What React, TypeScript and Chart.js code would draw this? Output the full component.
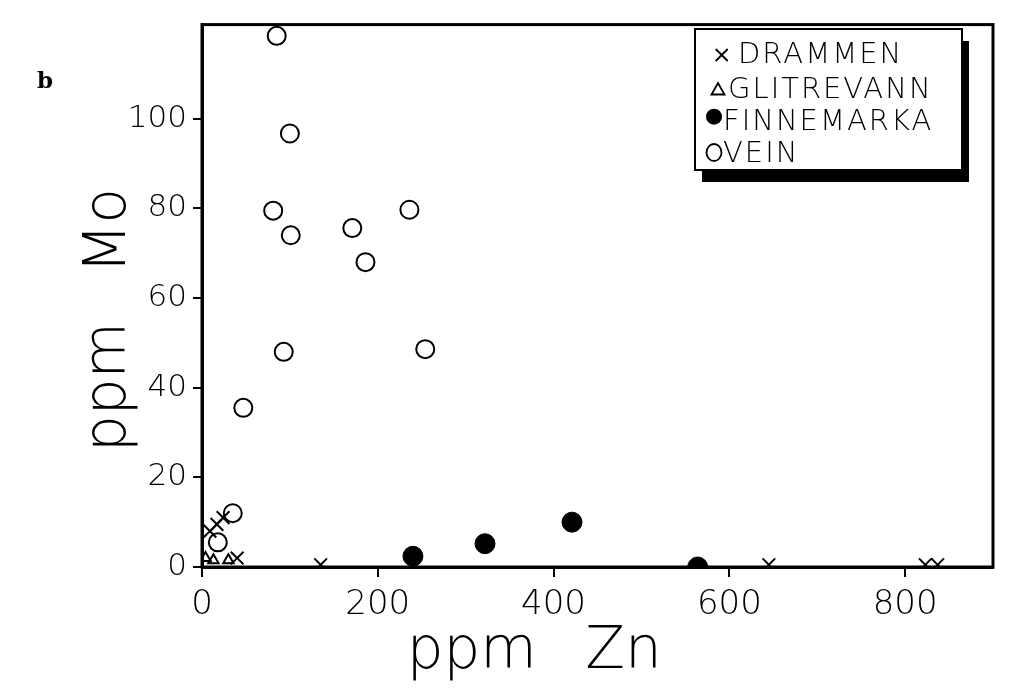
import React, { useEffect, useRef } from "react";
import { Chart, registerables } from "chart.js";

Chart.register(...registerables);

// ---- data ----
const seriesNames = ["DRAMMEN", "GLITREVANN", "FINNEMARKA", "VEIN"];

const drammenZn = [9, 17, 24, 40, 135, 645, 823, 837];
const drammenMo = [8, 9.5, 11, 2, 0.5, 0.5, 0.5, 0.5];

const glitrevannZn = [4, 13, 30];
const glitrevannMo = [2, 1.5, 1.5];

const finnemarkaZn = [240, 322, 421, 564];
const finnemarkaMo = [2.4, 5.2, 10, 0];

const veinZn = [85, 100, 81, 101, 171, 186, 236, 93, 254, 47, 35, 18];
const veinMo = [118.5, 96.7, 79.5, 74, 75.6, 68, 79.7, 48, 48.6, 35.5, 12, 5.5];

const xTicks = [0, 200, 400, 600, 800];
const yTicks = [0, 20, 40, 60, 80, 100];

const xTitle = "ppm Zn";
const yTitle = "ppm Mo";
const panelLabel = "b";

const FONT = "'DejaVu Sans', 'Lato', sans-serif";

const toPoints = (xs: number[], ys: number[]) => xs.map((x, i) => ({ x, y: ys[i] }));

const decorPlugin = {
  id: "decor",
  afterDatasetsDraw(chart: any) {
    const { ctx, chartArea } = chart;
    ctx.save();
    ctx.strokeStyle = "#000";
    ctx.lineWidth = 3;
    ctx.strokeRect(chartArea.left, chartArea.top, chartArea.right - chartArea.left, chartArea.bottom - chartArea.top);
    ctx.restore();
  },
  afterDraw(chart: any) {
    const { ctx, chartArea } = chart;
    ctx.save();
    ctx.fillStyle = "#000";
    // axis titles
    ctx.font = `200 58px ${FONT}`;
    ctx.textAlign = "center";
    ctx.textBaseline = "alphabetic";
    (ctx as any).wordSpacing = "30px";
    ctx.fillText(xTitle, chartArea.left + (chartArea.right - chartArea.left) * 0.42, 668);
    ctx.save();
    ctx.translate(125, 320);
    ctx.rotate(-Math.PI / 2);
    ctx.fillText(yTitle, 0, 0);
    ctx.restore();
    (ctx as any).wordSpacing = "0px";

    // panel label
    ctx.font = `bold 23px 'DejaVu Serif', serif`;
    ctx.textAlign = "left";
    ctx.fillText(panelLabel, 37, 88);

    // legend box
    const L = 695, T = 29, W = 267, H = 141;
    ctx.fillStyle = "#000";
    ctx.fillRect(L + 7, T + 12, W, H);
    ctx.fillStyle = "#fff";
    ctx.fillRect(L, T, W, H);
    ctx.strokeStyle = "#000";
    ctx.lineWidth = 2;
    ctx.strokeRect(L, T, W, H);

    const rows = [
      { mx: 26.7, my: 26, tx: 43, ty: 34.3 },
      { mx: 23, my: 60, tx: 33, ty: 69.3 },
      { mx: 19, my: 87.7, tx: 28, ty: 101 },
      { mx: 19, my: 123.5, tx: 28, ty: 132.7 },
    ];
    ctx.font = `200 29px ${FONT}`;
    (ctx as any).letterSpacing = "2px";
    ctx.fillStyle = "#000";
    ctx.textBaseline = "alphabetic";
    chart.data.datasets.forEach((ds: any, i: number) => {
      const r = rows[i];
      const cx = L + r.mx, cy = T + r.my;
      ctx.lineWidth = 1.8;
      ctx.strokeStyle = "#000";
      ctx.beginPath();
      if (i === 0) {
        ctx.moveTo(cx - 6, cy - 6); ctx.lineTo(cx + 6, cy + 6);
        ctx.moveTo(cx - 6, cy + 6); ctx.lineTo(cx + 6, cy - 6);
        ctx.stroke();
      } else if (i === 1) {
        ctx.moveTo(cx, cy - 6); ctx.lineTo(cx + 6.5, cy + 5.5); ctx.lineTo(cx - 6.5, cy + 5.5); ctx.closePath();
        ctx.stroke();
      } else if (i === 2) {
        ctx.arc(cx, cy, 8, 0, Math.PI * 2);
        ctx.fill();
      } else {
        ctx.ellipse(cx, cy, 7.5, 8.5, 0, 0, Math.PI * 2);
        ctx.stroke();
      }
      ctx.fillText(ds.label, L + r.tx, T + r.ty);
    });
    (ctx as any).letterSpacing = "0px";
    ctx.restore();
  },
};

export default function App() {
  const ref = useRef<HTMLCanvasElement>(null);

  useEffect(() => {
    const canvas = ref.current!;
    const tickFont = (size: number) => ({ family: FONT, size, weight: 200 as any });
    const chart = new Chart(canvas, {
      type: "scatter",
      data: {
        datasets: [
          {
            label: seriesNames[0],
            data: toPoints(drammenZn, drammenMo),
            pointStyle: "crossRot",
            pointRadius: 9,
            pointBorderWidth: 2,
            pointBorderColor: "#000",
            pointBackgroundColor: "transparent",
            borderColor: "#000",
            clip: 0,
          },
          {
            label: seriesNames[1],
            data: toPoints(glitrevannZn, glitrevannMo),
            pointStyle: "triangle",
            pointRadius: 6,
            pointBorderWidth: 2,
            pointBorderColor: "#000",
            pointBackgroundColor: "transparent",
            borderColor: "#000",
            clip: 0,
          },
          {
            label: seriesNames[2],
            data: toPoints(finnemarkaZn, finnemarkaMo),
            pointStyle: "circle",
            pointRadius: 10,
            pointBorderWidth: 1,
            pointBorderColor: "#000",
            pointBackgroundColor: "#000",
            borderColor: "#000",
            clip: 0,
          },
          {
            label: seriesNames[3],
            data: toPoints(veinZn, veinMo),
            pointStyle: "circle",
            pointRadius: 9,
            pointBorderWidth: 2,
            pointBorderColor: "#000",
            pointBackgroundColor: "transparent",
            borderColor: "#000",
            clip: 0,
          },
        ],
      },
      options: {
        animation: false,
        responsive: false,
        events: [],
        layout: { padding: { top: 10, right: 21, bottom: 0, left: 0 } },
        plugins: { legend: { display: false }, tooltip: { enabled: false } },
        scales: {
          x: {
            type: "linear",
            min: 0,
            max: 900,
            afterBuildTicks: (s: any) => {
              s.ticks = xTicks.map((v) => ({ value: v }));
            },
            afterFit: (s: any) => {
              s.height = 128;
            },
            border: { display: true, color: "#000", width: 3 },
            grid: { drawOnChartArea: false, drawTicks: true, tickLength: 10, color: "#000", lineWidth: 2 },
            ticks: { color: "#000", font: tickFont(34), padding: 8, maxRotation: 0, autoSkip: false },
          },
          y: {
            type: "linear",
            min: 0,
            max: 121,
            afterBuildTicks: (s: any) => {
              s.ticks = yTicks.map((v) => ({ value: v }));
            },
            afterFit: (s: any) => {
              s.width = 202;
            },
            border: { display: true, color: "#000", width: 3 },
            grid: { drawOnChartArea: false, drawTicks: true, tickLength: 9, color: "#000", lineWidth: 2 },
            ticks: { color: "#000", font: tickFont(31), padding: 6, autoSkip: false },
          },
        },
      },
      plugins: [decorPlugin],
    });
    return () => chart.destroy();
  }, []);

  return (
    <div style={{ position: "absolute", left: 0, top: 0, width: 1014, height: 695, background: "#fff" }}>
      <canvas ref={ref} width={1014} height={695} style={{ display: "block", width: 1014, height: 695 }} />
    </div>
  );
}
